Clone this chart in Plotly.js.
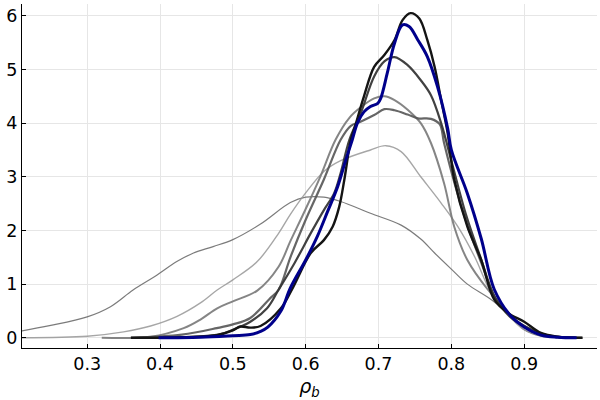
<!DOCTYPE html>
<html>
<head>
<meta charset="utf-8">
<script src="https://cdn.plot.ly/plotly-3.0.1.min.js"></script>
<style>html,body{margin:0;padding:0;background:#fff}#chart{width:600px;height:400px}</style>
</head>
<body>
<div id="chart"></div>
<script>
// Series 1: thin gray, broad
const x1 = [0.19,0.21,0.25,0.30,0.332,0.363,0.396,0.423,0.446,0.473,0.50,0.538,0.579,0.60,0.625,0.648,0.689,0.731,0.758,0.777,0.80,0.822,0.855,0.882,0.90,0.923,0.95,0.98];
const y1 = [0.09,0.13,0.23,0.39,0.58,0.89,1.17,1.42,1.58,1.70,1.83,2.12,2.52,2.62,2.62,2.54,2.32,2.1,1.84,1.58,1.28,1.0,0.71,0.4,0.15,0.03,0.01,0.0];
// Series 2: thin light gray
const x2 = [0.19,0.30,0.35,0.387,0.4234,0.4555,0.4785,0.50,0.5335,0.563,0.579,0.60,0.625,0.648,0.689,0.71,0.731,0.758,0.786,0.809,0.832,0.855,0.88,0.90,0.93,0.97];
const y2 = [0.0,0.03,0.11,0.22,0.40,0.65,0.89,1.08,1.42,1.95,2.3,2.7,3.1,3.3,3.5,3.58,3.47,3.0,2.51,2.07,1.51,0.83,0.4,0.15,0.03,0.0];
// Series 3: medium gray
const x3 = [0.32,0.387,0.4325,0.4555,0.4785,0.50,0.5335,0.563,0.579,0.60,0.62,0.641,0.66,0.676,0.694,0.708,0.722,0.74,0.758,0.772,0.79,0.804,0.822,0.85,0.88,0.90,0.93,0.97];
const y3 = [0.0,0.02,0.18,0.34,0.55,0.68,0.88,1.33,1.8,2.4,3.0,3.69,4.1,4.3,4.46,4.5,4.43,4.25,4.0,3.63,2.88,2.07,1.45,0.9,0.45,0.2,0.04,0.0];
// Series 4: darker gray
const x4 = [0.36,0.43,0.478,0.50,0.524,0.55,0.563,0.579,0.60,0.625,0.648,0.662,0.676,0.694,0.708,0.722,0.74,0.754,0.772,0.784,0.79,0.804,0.822,0.841,0.86,0.88,0.90,0.93,0.98];
const y4 = [0.0,0.06,0.18,0.25,0.37,0.72,0.9,1.5,2.2,2.95,3.69,3.95,4.03,4.15,4.26,4.24,4.16,4.09,4.08,3.98,3.63,2.9,2.1,1.4,0.75,0.42,0.22,0.05,0.0];
// Series 5: dark gray
const x5 = [0.40,0.48,0.50,0.524,0.547,0.563,0.585,0.607,0.625,0.639,0.648,0.66,0.676,0.694,0.708,0.722,0.74,0.758,0.772,0.786,0.80,0.82,0.84,0.86,0.88,0.90,0.93,0.97];
const y5 = [0.0,0.06,0.15,0.3,0.55,0.9,1.4,1.95,2.38,2.69,3.07,3.69,4.2,4.87,5.15,5.23,5.08,4.8,4.52,4.0,3.3,2.3,1.5,0.75,0.4,0.22,0.05,0.0];
// Series 6: near-black
const x6 = [0.36,0.43,0.478,0.50,0.51,0.524,0.538,0.566,0.583,0.607,0.625,0.637,0.646,0.653,0.662,0.668,0.68,0.694,0.708,0.722,0.733,0.744,0.756,0.767,0.777,0.786,0.795,0.804,0.822,0.841,0.859,0.878,0.90,0.923,0.946,0.98];
const y6 = [0.0,0.01,0.05,0.14,0.21,0.19,0.22,0.55,0.95,1.58,1.82,2.07,2.44,2.94,3.69,3.95,4.5,5.05,5.27,5.55,5.92,6.05,5.95,5.55,5.05,4.43,3.81,2.95,2.07,1.45,0.71,0.46,0.3,0.09,0.02,0.0];
// Series 7: blue
const x7 = [0.398,0.4555,0.50,0.524,0.538,0.548,0.566,0.579,0.60,0.616,0.63,0.644,0.655,0.664,0.671,0.68,0.689,0.699,0.703,0.712,0.722,0.733,0.742,0.754,0.767,0.781,0.795,0.80,0.822,0.841,0.859,0.882,0.90,0.923,0.946,0.972];
const y7 = [0.0,0.01,0.04,0.06,0.12,0.2,0.5,0.93,1.45,1.89,2.35,2.82,3.31,3.69,4.0,4.21,4.31,4.37,4.46,4.93,5.49,5.83,5.8,5.55,5.24,4.68,3.9,3.5,2.69,1.85,0.9,0.4,0.2,0.05,0.01,0.0];

const xTicks = [0.3,0.4,0.5,0.6,0.7,0.8,0.9];
const yTicks = [0,1,2,3,4,5,6];

const series = [
  {x:x1,y:y1,color:'rgba(100,100,100,0.85)',w:1.2},
  {x:x2,y:y2,color:'rgba(150,150,150,0.85)',w:1.4},
  {x:x3,y:y3,color:'rgba(120,120,120,0.9)',w:2},
  {x:x4,y:y4,color:'rgba(85,85,85,0.9)',w:2.2},
  {x:x5,y:y5,color:'rgba(55,55,55,0.95)',w:2.2},
  {x:x6,y:y6,color:'rgba(20,20,20,1)',w:2.4},
  {x:x7,y:y7,color:'#00008b',w:3}
];
const traces = series.map(s => ({
  x:s.x, y:s.y, type:'scatter', mode:'lines',
  line:{color:s.color,width:s.w,shape:'spline',smoothing:1},
  hoverinfo:'skip', showlegend:false
}));

const font = {family:'DejaVu Sans, sans-serif', size:17.5, color:'#000'};
const layout = {
  width:600, height:400,
  margin:{l:22,r:3,t:4,b:52},
  paper_bgcolor:'#fff', plot_bgcolor:'#fff',
  font:font,
  showlegend:false,
  xaxis:{
    range:[0.2105,1.0], tickvals:xTicks, ticktext:xTicks.map(v=>v.toFixed(1)),
    ticks:'inside', ticklen:4, tickcolor:'#000', tickwidth:1,
    showline:true, linecolor:'#000', linewidth:1.2, mirror:false,
    showgrid:true, gridcolor:'#e6e6e6', gridwidth:1, zeroline:false,
    tickfont:font,
    title:{text:'<i>ρ</i><sub><i>b</i></sub>', font:{family:'DejaVu Sans, sans-serif',size:19,color:'#000'}, standoff:7}
  },
  yaxis:{
    range:[-0.19,6.22], tickvals:yTicks, ticktext:yTicks.map(String),
    ticks:'inside', ticklen:4, tickcolor:'#000', tickwidth:1,
    showline:true, linecolor:'#000', linewidth:1.2, mirror:false,
    showgrid:true, gridcolor:'#e6e6e6', gridwidth:1, zeroline:false,
    tickfont:font
  }
};
Plotly.newPlot('chart', traces, layout, {displayModeBar:false, staticPlot:true});
</script>
</body>
</html>
